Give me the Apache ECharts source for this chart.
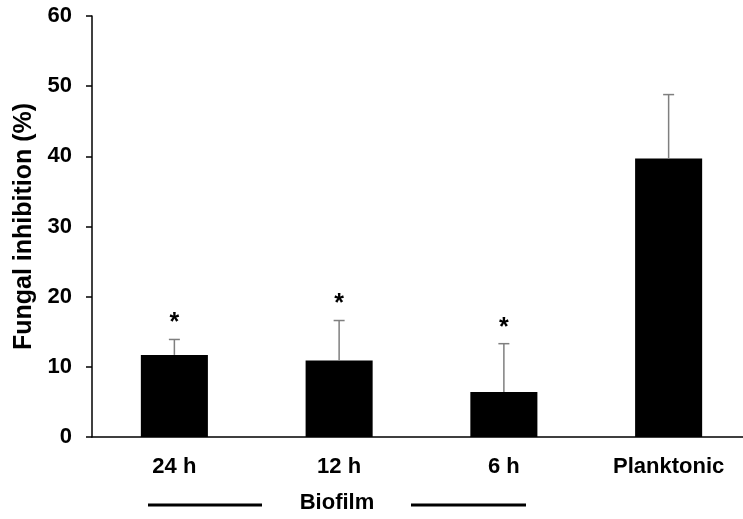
<!DOCTYPE html>
<html>
<head>
<meta charset="utf-8">
<script src="https://cdn.jsdelivr.net/npm/echarts@6/dist/echarts.min.js"></script>
<style>
  html, body { margin: 0; padding: 0; background: #fff; }
  #main { width: 743px; height: 519px; }
</style>
</head>
<body>
<div id="main"></div>
<script>
var categories = ["24 h", "12 h", "6 h", "Planktonic"];
var means = [11.7, 10.9, 6.4, 39.7];
var errUpper = [13.9, 16.6, 13.3, 48.8];
var marks = ["*", "*", "*", ""];
var yTicks = [0, 10, 20, 30, 40, 50, 60];

var FONT = "Liberation Sans, Arial, sans-serif";

var chart = echarts.init(document.getElementById("main"));

var errData = categories.map(function (c, i) {
  return [i, means[i], errUpper[i], marks[i]];
});

var option = {
  animation: false,
  grid: { left: 92, right: -8, top: 16, bottom: 82, containLabel: false, outerBoundsMode: "none" },
  xAxis: {
    type: "category",
    data: categories,
    axisLine: { lineStyle: { color: "#000", width: 1.5 } },
    axisTick: { show: false },
    axisLabel: {
      color: "#000", fontFamily: FONT, fontWeight: "bold", fontSize: 22, margin: 19
    }
  },
  yAxis: {
    type: "value",
    min: yTicks[0],
    max: yTicks[yTicks.length - 1],
    interval: 10,
    name: "Fungal inhibition (%)",
    nameLocation: "middle",
    nameGap: 53,
    nameTextStyle: { color: "#000", fontFamily: FONT, fontWeight: "bold", fontSize: 25 },
    axisLine: { show: true, lineStyle: { color: "#000", width: 1.5 } },
    axisTick: { show: true, inside: false, length: 6, lineStyle: { color: "#000", width: 1.5 } },
    axisLabel: { color: "#000", fontFamily: FONT, fontWeight: "bold", fontSize: 22, margin: 20 },
    splitLine: { show: false }
  },
  series: [
    {
      type: "bar",
      data: means,
      barWidth: "40.7%",
      itemStyle: { color: "#000" }
    },
    {
      type: "custom",
      data: errData,
      z: 10,
      renderItem: function (params, api) {
        var x = api.coord([api.value(0), 0])[0];
        var yMean = api.coord([api.value(0), api.value(1)])[1];
        var yTop = api.coord([api.value(0), api.value(2)])[1];
        var half = 5.5;
        var st = { stroke: "#7f7f7f", lineWidth: 1.5 };
        var children = [
          { type: "line", shape: { x1: x, y1: yMean, x2: x, y2: yTop }, style: st },
          { type: "line", shape: { x1: x - half, y1: yTop, x2: x + half, y2: yTop }, style: st }
        ];
        var m = marks[params.dataIndex];
        if (m) {
          children.push({
            type: "text",
            style: {
              text: m, x: x, y: yTop - 16,
              align: "center", verticalAlign: "middle",
              fill: "#000", font: "bold 25px " + FONT
            }
          });
        }
        return { type: "group", children: children };
      }
    }
  ],
  graphic: [
    { type: "line", shape: { x1: 148, y1: 505, x2: 262, y2: 505 }, style: { stroke: "#000", lineWidth: 3 } },
    { type: "line", shape: { x1: 411, y1: 505, x2: 526, y2: 505 }, style: { stroke: "#000", lineWidth: 3 } },
    {
      type: "text", x: 337, y: 503,
      style: { text: "Biofilm", align: "center", verticalAlign: "middle", fill: "#000", font: "bold 22px " + FONT }
    }
  ]
};

chart.setOption(option);
</script>
</body>
</html>
